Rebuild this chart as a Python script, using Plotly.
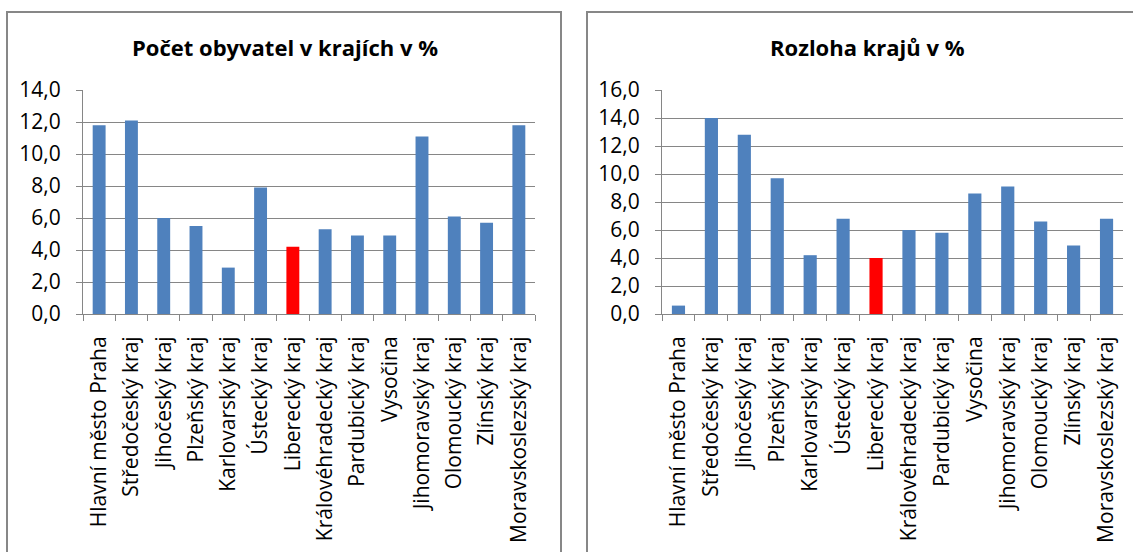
import plotly.graph_objects as go

# Czech regions (kraje)
regions = [
    "Hlavní město Praha", "Středočeský kraj", "Jihočeský kraj", "Plzeňský kraj",
    "Karlovarský kraj", "Ústecký kraj", "Liberecký kraj", "Královéhradecký kraj",
    "Pardubický kraj", "Vysočina", "Jihomoravský kraj", "Olomoucký kraj",
    "Zlínský kraj", "Moravskoslezský kraj",
]
# Share of population, %
population_pct = [11.8, 12.1, 6.0, 5.5, 2.9, 7.9, 4.2, 5.3, 4.9, 4.9, 11.1, 6.1, 5.7, 11.8]
# Share of area, %
area_pct = [0.6, 14.0, 12.8, 9.7, 4.2, 6.8, 4.0, 6.0, 5.8, 8.6, 9.1, 6.6, 4.9, 6.8]

highlight = "Liberecký kraj"
title_left = "Počet obyvatel v krajích v %"
title_right = "Rozloha krajů v %"

W, H = 1133, 552
BLUE = "#4F81BD"
RED = "#FF0000"
GRID = "#868686"
FONT = "Open Sans"

colors = [RED if r == highlight else BLUE for r in regions]

fig = go.Figure()
fig.add_trace(go.Bar(x=regions, y=population_pct, marker=dict(color=colors, line=dict(width=0)),
                     xaxis="x", yaxis="y", showlegend=False))
fig.add_trace(go.Bar(x=regions, y=area_pct, marker=dict(color=colors, line=dict(width=0)),
                     xaxis="x2", yaxis="y2", showlegend=False))


def px_x(p):
    return p / W


def px_y(p):
    return 1 - p / H


y_dom = [px_y(314), px_y(90)]

xaxis_common = dict(
    type="category", tickson="boundaries", ticks="outside", ticklen=6, tickwidth=1,
    tickcolor=GRID, showline=True, linecolor=GRID, linewidth=1, showgrid=False,
    tickangle=-90, ticklabelstandoff=13, automargin=False,
    tickfont=dict(family=FONT, size=21, color="#000000"), fixedrange=True,
)
yaxis_common = dict(
    dtick=2, tickformat=".1f", ticks="outside", ticklen=6, tickwidth=1, tickcolor=GRID,
    showline=True, linecolor=GRID, linewidth=1, showgrid=True, gridcolor=GRID, gridwidth=1,
    zeroline=False, ticklabelstandoff=11, automargin=False,
    tickfont=dict(family=FONT, size=21, color="#000000"), fixedrange=True,
)

fig.update_layout(
    width=W, height=H,
    margin=dict(l=0, r=0, t=0, b=0, pad=0, autoexpand=False),
    paper_bgcolor="white", plot_bgcolor="white",
    separators=", ",
    bargap=0.6,
    xaxis=dict(domain=[px_x(83), px_x(535)], anchor="y", **xaxis_common),
    yaxis=dict(domain=y_dom, anchor="x", range=[0, 14], **yaxis_common),
    xaxis2=dict(domain=[px_x(662), px_x(1123)], anchor="y2", **xaxis_common),
    yaxis2=dict(domain=y_dom, anchor="x2", range=[0, 16], **yaxis_common),
    annotations=[
        dict(text="<b>%s</b>" % title_left, x=px_x(285), y=px_y(47), xref="paper", yref="paper",
             showarrow=False, xanchor="center", yanchor="middle",
             font=dict(family=FONT, size=22, color="#000000")),
        dict(text="<b>%s</b>" % title_right, x=px_x(867), y=px_y(47), xref="paper", yref="paper",
             showarrow=False, xanchor="center", yanchor="middle",
             font=dict(family=FONT, size=22, color="#000000")),
    ],
    shapes=[
        dict(type="rect", xref="paper", yref="paper", x0=px_x(7), x1=px_x(561), y0=-0.1, y1=px_y(12),
             line=dict(color="#878787", width=2), fillcolor="rgba(0,0,0,0)", layer="below"),
        dict(type="rect", xref="paper", yref="paper", x0=px_x(587), x1=1.1, y0=-0.1, y1=px_y(12),
             line=dict(color="#878787", width=2), fillcolor="rgba(0,0,0,0)", layer="below"),
    ],
)

fig.write_html("out.html")
